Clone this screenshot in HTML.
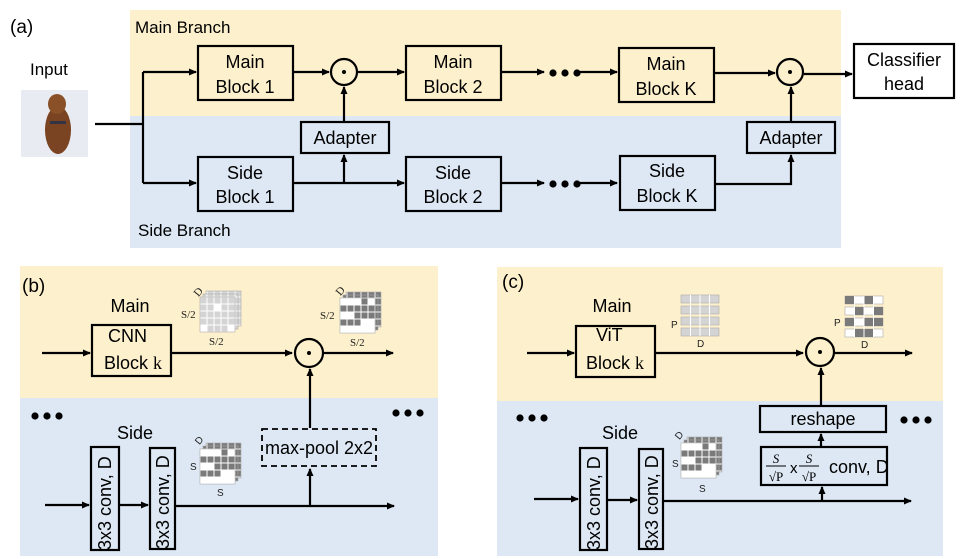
<!DOCTYPE html>
<html><head><meta charset="utf-8"><style>
body{margin:0;background:#fff}
svg{display:block;font-family:"Liberation Sans",Arial,sans-serif}
</style></head><body>
<svg width="970" height="559" viewBox="0 0 970 559" xmlns="http://www.w3.org/2000/svg">
<defs>
<marker id="ar" markerWidth="8" markerHeight="8" refX="7" refY="4" orient="auto" markerUnits="userSpaceOnUse"><path d="M0,0.5 L8,4 L0,7.5z" fill="#000"/></marker>
<pattern id="gl" width="7" height="7" patternUnits="userSpaceOnUse"><rect width="7" height="7" fill="#d4d4d4" stroke="#fff" stroke-width="1"/></pattern>
<pattern id="gd" width="7" height="7" patternUnits="userSpaceOnUse"><rect width="7" height="7" fill="#7a7a7a" stroke="#fff" stroke-width="1"/></pattern>
<pattern id="gridw" width="7" height="7" patternUnits="userSpaceOnUse"><rect width="7" height="7" fill="none" stroke="#fff" stroke-width="1"/></pattern>
<g id="cubeL">
<rect x="6" y="-6" width="35" height="35" fill="url(#gl)" stroke="#aaa" stroke-width="0.6"/>
<rect x="3" y="-3" width="35" height="35" fill="url(#gl)" stroke="#aaa" stroke-width="0.6"/>
<rect x="0" y="0" width="35" height="35" fill="url(#gl)" stroke="#aaa" stroke-width="0.6"/>
<rect x="14.5" y="7.5" width="6" height="6" fill="#fff"/><rect x="0.5" y="28.5" width="6" height="6" fill="#fff"/><rect x="28.5" y="28.5" width="6" height="6" fill="#fff"/>
</g>
<g id="cubeD">
<rect x="6" y="-6" width="35" height="35" fill="url(#gd)" stroke="#aaa" stroke-width="0.6"/>
<rect x="3" y="-3" width="35" height="35" fill="url(#gd)" stroke="#aaa" stroke-width="0.6"/>
<rect x="0" y="0" width="35" height="35" fill="#fff" stroke="#aaa" stroke-width="0.6"/>
<rect x="0" y="7" width="35" height="7" fill="#7a7a7a"/><rect x="14" y="14" width="21" height="7" fill="#7a7a7a"/><rect x="0" y="21" width="21" height="7" fill="#7a7a7a"/><rect x="21" y="0" width="7" height="7" fill="#7a7a7a"/>
<rect x="0" y="0" width="35" height="35" fill="url(#gridw)" stroke="#bbb" stroke-width="0.6"/>
</g>
<g id="dots"><circle cx="0" cy="0" r="3.6"/><circle cx="12" cy="0" r="3.6"/><circle cx="24" cy="0" r="3.6"/></g>
</defs>

<!-- Panel a -->
<rect x="130" y="10" width="711" height="106" fill="#fdf0cc"/>
<rect x="130" y="116" width="711" height="132" fill="#dde8f4"/>
<text x="10" y="33" font-size="19">(a)</text>
<text x="135" y="33" font-size="17">Main Branch</text>
<text x="138" y="236" font-size="17">Side Branch</text>
<text x="30" y="75" font-size="17">Input</text>
<rect x="21" y="90" width="67" height="67" fill="#e8ecf2"/>
<ellipse cx="58" cy="130" rx="13" ry="24" fill="#7a4422"/>
<ellipse cx="57" cy="104" rx="9" ry="10" fill="#8a5028"/>
<rect x="50" y="121" width="16" height="3" fill="#334"/>
<g stroke="#000" stroke-width="2.2" fill="none">
<path d="M95,124 H143 M143,72 V183"/>
<path d="M143,72 H196" marker-end="url(#ar)"/><path d="M143,183 H196" marker-end="url(#ar)"/>
<rect x="198" y="46" width="95" height="54" fill="#fdf0cc"/>
<rect x="198" y="157" width="95" height="54" fill="#dde8f4"/>
<rect x="301" y="122" width="88" height="31" fill="#dde8f4"/>
<path d="M293,72 H329" marker-end="url(#ar)"/>
<circle cx="344" cy="72" r="13"/>
<path d="M344,122 V87" marker-end="url(#ar)"/>
<path d="M293,183 H404" marker-end="url(#ar)"/>
<path d="M344,183 V155" marker-end="url(#ar)"/>
<path d="M358,72 H404" marker-end="url(#ar)"/>
<rect x="406" y="46" width="95" height="54" fill="#fdf0cc"/>
<rect x="406" y="157" width="95" height="54" fill="#dde8f4"/>
<path d="M501,72 H544" marker-end="url(#ar)"/><path d="M501,183 H544" marker-end="url(#ar)"/>
<path d="M575,72 H617" marker-end="url(#ar)"/><path d="M575,183 H617" marker-end="url(#ar)"/>
<rect x="619" y="48" width="95" height="54" fill="#fdf0cc"/>
<rect x="620" y="156" width="95" height="54" fill="#dde8f4"/>
<path d="M714,73 H775" marker-end="url(#ar)"/>
<circle cx="790" cy="72" r="13"/>
<path d="M715,184 H791 V155" marker-end="url(#ar)"/>
<rect x="747" y="122" width="88" height="31" fill="#dde8f4"/>
<path d="M791,122 V87" marker-end="url(#ar)"/>
<path d="M804,74 H852" marker-end="url(#ar)"/>
<rect x="854" y="44" width="100" height="54" fill="#fff"/>
</g>
<circle cx="344" cy="72" r="2" /><circle cx="790" cy="72" r="2"/>
<use href="#dots" x="553" y="73"/><use href="#dots" x="553" y="184"/>
<g font-size="18" text-anchor="middle">
<text x="245" y="68">Main</text><text x="245" y="93">Block 1</text>
<text x="245" y="179">Side</text><text x="245" y="203">Block 1</text>
<text x="453" y="68">Main</text><text x="453" y="93">Block 2</text>
<text x="453" y="179">Side</text><text x="453" y="203">Block 2</text>
<text x="666" y="70">Main</text><text x="666" y="95">Block K</text>
<text x="667" y="177">Side</text><text x="667" y="202">Block K</text>
<text x="345" y="144">Adapter</text><text x="791" y="144">Adapter</text>
<text x="904" y="66">Classifier</text><text x="904" y="90">head</text>
</g>

<!-- Panel b -->
<rect x="20" y="266" width="418" height="132" fill="#fdf0cc"/>
<rect x="20" y="398" width="418" height="158" fill="#dde8f4"/>
<text x="22" y="292" font-size="19">(b)</text>
<text x="130" y="312" font-size="18" text-anchor="middle">Main</text>
<text x="135" y="439" font-size="18" text-anchor="middle">Side</text>
<g stroke="#000" stroke-width="2.2" fill="none">
<path d="M42,353 H90" marker-end="url(#ar)"/>
<rect x="92" y="325" width="79" height="51" fill="#fdf0cc"/>
<path d="M171,353 H292" marker-end="url(#ar)"/>
<circle cx="309" cy="353" r="14"/>
<path d="M323,353 H393" marker-end="url(#ar)"/>
<path d="M310,428 V369" marker-end="url(#ar)"/>
<rect x="262" y="429" width="114" height="37" stroke-dasharray="6,4" stroke-width="1.8"/>
<path d="M45,505 H89" marker-end="url(#ar)"/>
<rect x="91" y="447" width="28" height="103" fill="#dde8f4"/>
<path d="M119,505 H148" marker-end="url(#ar)"/>
<rect x="150" y="448" width="25" height="101" fill="#dde8f4"/>
<path d="M175,506 H394" marker-end="url(#ar)"/>
<path d="M310,506 V469" marker-end="url(#ar)"/>
</g>
<circle cx="309" cy="353" r="2"/>
<use href="#dots" x="35" y="416"/><use href="#dots" x="396" y="413"/>
<g font-size="18">
<text x="108" y="342">CNN</text><text x="104" y="369">Block <tspan font-family="Liberation Serif">k</tspan></text>
<text x="319" y="454" text-anchor="middle">max-pool 2x2</text>
<text transform="translate(111,550) rotate(-90)">3x3 conv, D</text>
<text transform="translate(169,549) rotate(-90)">3x3 conv, D</text>
</g>
<use href="#cubeL" x="200" y="297"/>
<use href="#cubeD" x="340" y="298"/>
<use href="#cubeD" x="200" y="449"/>
<g font-family="Liberation Serif" font-size="11" fill="#222">
<text x="181" y="318">S/2</text><text x="209" y="345">S/2</text>
<text x="320" y="319">S/2</text><text x="350" y="346">S/2</text>
<text x="195" y="296" transform="rotate(-50 198 293)">D</text>
<text x="337" y="295" transform="rotate(-50 340 292)">D</text>
</g>
<g font-size="10" fill="#222">
<text x="190" y="470">S</text><text x="217" y="496">S</text>
<text x="196" y="444" transform="rotate(-50 199 441)">D</text>
</g>

<!-- Panel c -->
<rect x="497" y="267" width="446" height="134" fill="#fdf0cc"/>
<rect x="497" y="401" width="446" height="155" fill="#dde8f4"/>
<text x="502" y="288" font-size="19">(c)</text>
<text x="612" y="312" font-size="18" text-anchor="middle">Main</text>
<text x="620" y="439" font-size="18" text-anchor="middle">Side</text>
<g stroke="#000" stroke-width="2.2" fill="none">
<path d="M527,353 H574" marker-end="url(#ar)"/>
<rect x="576" y="326" width="79" height="51" fill="#fdf0cc"/>
<path d="M655,353 H803" marker-end="url(#ar)"/>
<circle cx="820" cy="352" r="14"/>
<path d="M834,353 H912" marker-end="url(#ar)"/>
<rect x="760" y="406" width="126" height="26" fill="#dde8f4"/>
<rect x="761" y="447" width="126" height="38" fill="#dde8f4"/>
<path d="M821,406 V368" marker-end="url(#ar)"/>
<path d="M821,447 V434" marker-end="url(#ar)"/>
<path d="M822,501 V487" marker-end="url(#ar)"/>
<path d="M534,499 H578" marker-end="url(#ar)"/>
<rect x="580" y="448" width="27" height="102" fill="#dde8f4"/>
<path d="M607,500 H637" marker-end="url(#ar)"/>
<rect x="639" y="449" width="24" height="100" fill="#dde8f4"/>
<path d="M663,501 H911" marker-end="url(#ar)"/>
</g>
<circle cx="820" cy="352" r="2"/>
<use href="#dots" x="520" y="418"/><use href="#dots" x="904" y="420"/>
<g font-size="18">
<text x="596" y="341">ViT</text><text x="586" y="369">Block <tspan font-family="Liberation Serif">k</tspan></text>
<text x="823" y="425" text-anchor="middle">reshape</text>
<text x="829" y="473">conv, D</text>
<text x="790" y="473" font-size="15">x</text>
<text transform="translate(600,550) rotate(-90)">3x3 conv, D</text>
<text transform="translate(658,549) rotate(-90)">3x3 conv, D</text>
</g>
<g font-family="Liberation Serif" font-size="13" text-anchor="middle">
<text x="776" y="463" font-style="italic">S</text><line x1="766" y1="466" x2="786" y2="466" stroke="#000"/><text x="776" y="481">√P</text>
<text x="809" y="463" font-style="italic">S</text><line x1="799" y1="466" x2="819" y2="466" stroke="#000"/><text x="809" y="481">√P</text>
</g>
<!-- token grids -->
<g stroke="#aaa" stroke-width="0.6">
<g fill="#d4d4d4">
<rect x="681" y="295" width="38" height="8"/><rect x="681" y="306" width="38" height="8"/><rect x="681" y="317" width="38" height="8"/><rect x="681" y="328" width="38" height="8"/>
</g>
<g fill="#fff">
<rect x="845" y="296" width="38" height="8"/><rect x="845" y="307" width="38" height="8"/><rect x="845" y="318" width="38" height="8"/><rect x="845" y="329" width="38" height="8"/>
</g>
<g fill="#7a7a7a" stroke="none">
<rect x="845" y="296" width="10" height="8"/><rect x="864" y="296" width="9" height="8"/>
<rect x="855" y="307" width="9" height="8"/><rect x="873" y="307" width="10" height="8"/>
<rect x="845" y="318" width="10" height="8"/><rect x="864" y="318" width="19" height="8"/>
<rect x="855" y="329" width="18" height="8"/>
</g>
</g>
<g stroke="#fff" stroke-width="1"><path d="M690.5,295V336M700,295V336M709.5,295V336M854.5,296V337M864,296V337M873.5,296V337"/></g>
<use href="#cubeD" x="681" y="443"/>
<g font-size="10" fill="#222">
<text x="671" y="328">P</text><text x="697" y="347">D</text>
<text x="834" y="326">P</text><text x="861" y="348">D</text>
<text x="672" y="467">S</text><text x="699" y="492">S</text>
<text x="676" y="439" transform="rotate(-50 679 436)">D</text>
</g>
</svg>
</body></html>
